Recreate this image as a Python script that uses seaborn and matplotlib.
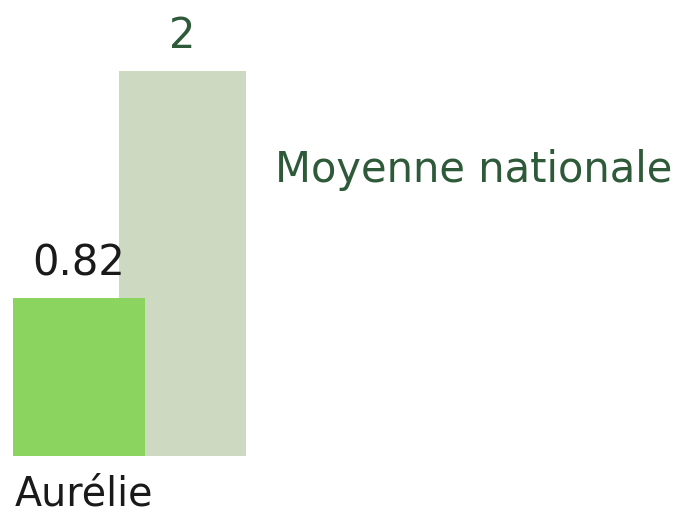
import matplotlib
matplotlib.use("Agg")
import matplotlib.pyplot as plt
import seaborn as sns
import pandas as pd

# Données
names = ["Moyenne nationale", "Aurélie"]
values = [2, 0.82]
value_labels = ["2", "0.82"]

# Couleurs
bar_colors = ["#cdd9c0", "#8bd460"]
label_colors = ["#2f5a3a", "#1a1a1a"]
centers = [182.5, 79]
widths = [127, 132]

sns.set_theme(style="white")
plt.rcParams["font.family"] = ["DejaVu Sans"]

fig = plt.figure(figsize=(6.86, 5.17), dpi=100)
ax = fig.add_axes([0, 61 / 517, 1, 456 / 517])

# barre grise derrière, barre verte devant
for i in range(len(names)):
    df = pd.DataFrame({"x": [centers[i]], "y": [values[i]]})
    sns.barplot(data=df, x="x", y="y", native_scale=True, width=widths[i],
                color=bar_colors[i], saturation=1, linewidth=0, ax=ax)
    ax.annotate(value_labels[i], (centers[i], values[i]), xytext=(0, 16.5),
                textcoords="offset points", ha="center", va="baseline",
                fontsize=30, color=label_colors[i])

ax.set_xlim(0, 686)
ax.set_ylim(0, 2 * 456 / 385)
ax.axis("off")

# Légende texte
ax.text(275, (456 - 182) / 192.5, names[0], ha="left", va="baseline",
        fontsize=30, color="#2f5a3a")
fig.text(15 / 686, 1 - 506 / 517, names[1], ha="left", va="baseline",
         fontsize=28.5, color="#1a1a1a")

fig.savefig("out.png", dpi=100)
